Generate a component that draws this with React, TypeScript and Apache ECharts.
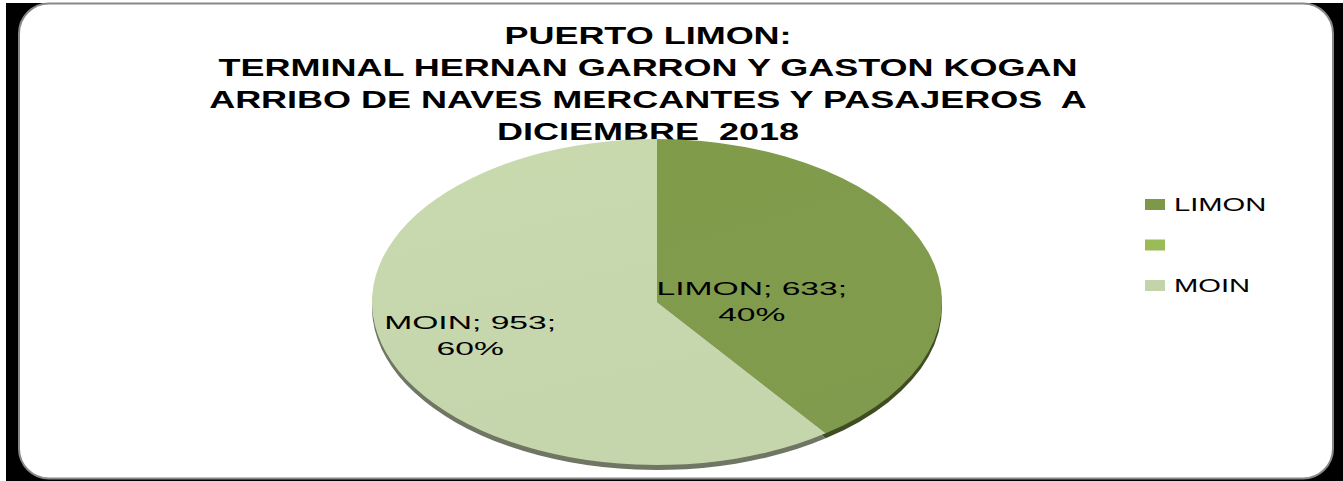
import React, { useEffect, useRef } from "react";
import * as echarts from "echarts";

const TITLE_LINES = [
  "PUERTO LIMON:",
  "TERMINAL HERNAN GARRON Y GASTON KOGAN",
  "ARRIBO DE NAVES MERCANTES Y PASAJEROS  A",
  "DICIEMBRE  2018",
];
const CATEGORIES = ["LIMON", "", "MOIN"];
const VALUES = [633, 0, 953];
const COLORS = ["#7d9848", "#9bbb59", "#c4d4aa"];
const DEPTH_COLORS = ["#3f4d22", "#5a6e30", "#6f7664"];

// layout
const W = 1343;
const H = 481;
const CX = 657;
const CY = 302;
const RX = 285;
const RY = 163;
const DEPTH = 5;
const FONT = "'Liberation Sans', Arial, sans-serif";
const LABEL_K = [0.35, 0.5, 0.69];
const LABEL_DY = [17, 0, -2];

const total = VALUES.reduce((a, b) => a + b, 0);
const starts: number[] = [];
VALUES.reduce((acc, v, i) => {
  starts[i] = acc;
  return acc + v;
}, 0);

function angles(i: number, v: number) {
  const a0 = -Math.PI / 2 + (2 * Math.PI * starts[i]) / total;
  const a1 = a0 + (2 * Math.PI * v) / total;
  return [a0, a1];
}

function depthItem(params: any, api: any) {
  const i = params.dataIndex;
  const v = api.value(0);
  if (!v) return null;
  const [a0, a1] = angles(i, v);
  return {
    type: "group",
    x: CX,
    y: CY + DEPTH,
    scaleY: RY / RX,
    children: [
      {
        type: "sector",
        shape: { cx: 0, cy: 0, r: RX, r0: 0, startAngle: a0, endAngle: a1, clockwise: true },
        style: { fill: DEPTH_COLORS[i] },
      },
    ],
  };
}

function faceItem(params: any, api: any) {
  const i = params.dataIndex;
  const v = api.value(0);
  if (!v) return null;
  const [a0, a1] = angles(i, v);
  const mid = (a0 + a1) / 2;
  const pct = Math.round((v / total) * 100);
  const k = LABEL_K[i];
  const base = COLORS[i];
  return {
    type: "group",
    children: [
      {
        type: "group",
        x: CX,
        y: CY,
        scaleY: RY / RX,
        children: [
          {
            type: "sector",
            shape: { cx: 0, cy: 0, r: RX, r0: 0, startAngle: a0, endAngle: a1, clockwise: true },
            style: {
              fill: new echarts.graphic.LinearGradient(0, 0, 0.3, 1, [
                { offset: 0, color: echarts.color.lift(base, -0.03) },
                { offset: 1, color: echarts.color.lift(base, 0.03) },
              ]),
            },
          },
        ],
      },
      {
        type: "text",
        x: CX + Math.cos(mid) * RX * k,
        y: CY + Math.sin(mid) * RY * k + LABEL_DY[i],
        scaleX: 1.77,
        style: {
          text: `${CATEGORIES[i]}; ${v};\n${pct}%`,
          fontSize: 19,
          fontFamily: FONT,
          fill: "#000",
          align: "center",
          verticalAlign: "middle",
          textAlign: "center",
          textVerticalAlign: "middle",
          lineHeight: 26,
        },
      },
    ],
  };
}

export default function App() {
  const ref = useRef<HTMLDivElement>(null);
  useEffect(() => {
    if (!ref.current) return;
    const chart = echarts.init(ref.current, null, { renderer: "svg" });

    const graphics: any[] = [
      { type: "rect", z: -10, shape: { x: 6, y: 3, width: W - 6, height: H - 3 }, style: { fill: "#000" } },
      {
        type: "rect",
        z: -9,
        shape: { x: 19, y: 3.5, width: 1314, height: 475, r: 30 },
        style: { fill: "#fff", stroke: "#888", lineWidth: 2 },
      },
    ];
    TITLE_LINES.forEach((t, i) => {
      graphics.push({
        type: "text",
        x: 648,
        y: 35 + 32 * i,
        scaleX: 1.5,
        style: {
          text: t,
          fontSize: 24,
          fontWeight: "bold",
          fontFamily: FONT,
          fill: "#000",
          align: "center",
          verticalAlign: "middle",
          textAlign: "center",
          textVerticalAlign: "middle",
        },
      });
    });
    CATEGORIES.forEach((c, i) => {
      const yc = 204.5 + 40.5 * i;
      graphics.push({
        type: "rect",
        shape: { x: 1145, y: yc - 5.5, width: 20, height: 11 },
        style: { fill: COLORS[i] },
      });
      graphics.push({
        type: "text",
        x: 1174,
        y: yc,
        scaleX: 1.62,
        style: {
          text: c,
          fontSize: 18,
          fontFamily: FONT,
          fill: "#000",
          align: "left",
          verticalAlign: "middle",
          textAlign: "left",
          textVerticalAlign: "middle",
        },
      });
    });

    const data = VALUES.map((v, i) => ({ name: CATEGORIES[i], value: v }));
    chart.setOption({
      animation: false,
      backgroundColor: "#fff",
      graphic: graphics,
      series: [
        { type: "custom", coordinateSystem: "none", silent: true, renderItem: depthItem, data, z: 1 },
        { type: "custom", coordinateSystem: "none", silent: true, renderItem: faceItem, data, z: 2 },
      ],
    });
    return () => chart.dispose();
  }, []);
  return (
    <div
      ref={ref}
      style={{ position: "fixed", left: 0, top: 0, width: W, height: H }}
    />
  );
}
